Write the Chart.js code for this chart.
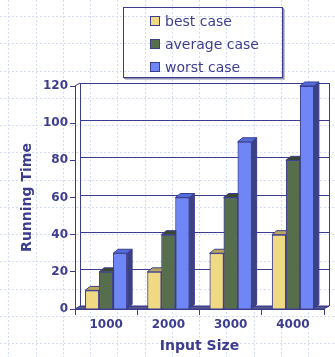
<!DOCTYPE html>
<html>
<head>
<meta charset="utf-8">
<script src="https://cdn.jsdelivr.net/npm/chart.js@4.4.0/dist/chart.umd.min.js"></script>
<style>
  html, body { margin: 0; padding: 0; background: #fff; }
  #wrap { position: relative; width: 335px; height: 357px; overflow: hidden; }
  #chart { position: absolute; left: 0; top: 0; }
  #legend {
    position: absolute; left: 123px; top: 7px; width: 160px; height: 71px;
    box-sizing: border-box; border: 1px solid #3d3d8f;
    box-shadow: 1px 1px 0 #8f8fb3, 2px 2px 0 #c4c4d8;
    font: 14px "DejaVu Sans", sans-serif; color: #3d3d8f;
  }
  #legend .item {
    position: absolute; left: 26px; height: 20px; line-height: 20px;
    display: flex; align-items: center; white-space: nowrap;
  }
  #legend .sw {
    width: 10px; height: 10px; box-sizing: border-box;
    border: 1px solid #3d3d8f; margin-right: 5px;
  }
</style>
</head>
<body>
<div id="wrap">
  <canvas id="chart" width="335" height="357"></canvas>
  <div id="legend"></div>
</div>
<script>
// Input sizes along the x axis
const categories = ['1000', '2000', '3000', '4000'];
// Running times per case
const bestCase    = [10, 20, 30, 40];
const averageCase = [20, 40, 60, 80];
const worstCase   = [30, 60, 90, 120];
// Value axis range
const yMin = 0;
const yMax = 120;
const yStep = 20;

const INK = '#3d3d8f';
const FONT = '"DejaVu Sans", "Verdana", sans-serif';
// depth offsets for the pseudo-3D walls and bar faces
const WALL = { dx: 5, dy: -3 };
const BAR  = { dx: 5, dy: -4 };

Chart.defaults.font.family = FONT;

// light dotted paper grid behind everything
const paper = {
  id: 'paper',
  beforeDraw(chart) {
    const { ctx, width, height } = chart;
    ctx.save();
    ctx.fillStyle = '#ffffff';
    ctx.fillRect(0, 0, width, height);
    ctx.strokeStyle = '#d4dcf6';
    ctx.lineWidth = 1;
    ctx.setLineDash([2, 2]);
    ctx.beginPath();
    for (let gx = 8.3; gx < width; gx += 27.25) {
      const px = Math.round(gx) + 0.5;
      ctx.moveTo(px, 0); ctx.lineTo(px, height);
    }
    for (let gy = 16; gy < height; gy += 27.25) {
      const py = Math.round(gy) + 0.5;
      ctx.moveTo(0, py); ctx.lineTo(width, py);
    }
    ctx.stroke();
    ctx.restore();
  }
};

// back wall, floor and side edges of the plot box
const walls = {
  id: 'walls',
  beforeDatasetsDraw(chart) {
    const { ctx, chartArea: a, scales: { y } } = chart;
    const L = a.left, R = a.right, T = a.top, B = a.bottom;
    const { dx, dy } = WALL;
    ctx.save();
    ctx.lineWidth = 1;
    ctx.strokeStyle = INK;
    // floor slab
    ctx.fillStyle = '#5b5b89';
    ctx.beginPath();
    ctx.moveTo(L, B); ctx.lineTo(L + dx, B + dy);
    ctx.lineTo(R + dx, B + dy); ctx.lineTo(R, B);
    ctx.closePath();
    ctx.fill();
    ctx.stroke();
    // back grid lines at every tick
    ctx.beginPath();
    y.ticks.forEach(t => {
      const py = Math.round(y.getPixelForValue(t.value) + dy) + 0.5;
      ctx.moveTo(L + dx, py); ctx.lineTo(R + dx, py);
    });
    // back wall edges
    const lx = Math.round(L + dx) + 0.5, rx = Math.round(R + dx) + 0.5;
    ctx.moveTo(lx, T + dy); ctx.lineTo(lx, B + dy);
    ctx.moveTo(rx, T + dy); ctx.lineTo(rx, B + dy);
    // top of the left wall
    ctx.moveTo(L, T); ctx.lineTo(L + dx, T + dy);
    ctx.stroke();
    ctx.restore();
  }
};

// top and right faces of every bar; each bar front is repainted after its
// own faces so the next bar in the group covers the hidden parts
const barFaces = {
  id: 'barFaces',
  afterDatasetsDraw(chart) {
    const { ctx } = chart;
    const { dx, dy } = BAR;
    const face = (pts, color) => {
      ctx.beginPath();
      ctx.moveTo(pts[0][0], pts[0][1]);
      for (let i = 1; i < pts.length; i++) ctx.lineTo(pts[i][0], pts[i][1]);
      ctx.closePath();
      ctx.fillStyle = color;
      ctx.fill();
      ctx.stroke();
    };
    chart.data.datasets.forEach((ds, di) => {
      const meta = chart.getDatasetMeta(di);
      meta.data.forEach(bar => {
        const { x, y, base, width } = bar.getProps(['x', 'y', 'base', 'width'], true);
        const l = x - width / 2, r = x + width / 2;
        ctx.save();
        ctx.lineWidth = 1;
        ctx.strokeStyle = INK;
        face([[r, y], [r + dx, y + dy], [r + dx, base + dy], [r, base]], ds.sideColor);
        face([[l, y], [l + dx, y + dy], [r + dx, y + dy], [r, y]], ds.topColor);
        ctx.restore();
        bar.draw(ctx, chart.chartArea);
      });
    });
  }
};

const datasets = [
  { label: 'best case', data: bestCase, backgroundColor: '#efd983',
    topColor: '#b9a65d', sideColor: '#a8964f' },
  { label: 'average case', data: averageCase, backgroundColor: '#566e4c',
    topColor: '#38472f', sideColor: '#2f3c28' },
  { label: 'worst case', data: worstCase, backgroundColor: '#6f87f6',
    topColor: '#526cdc', sideColor: '#3b4284' }
].map(d => Object.assign(d, {
  borderColor: INK, borderWidth: 1,
  categoryPercentage: 0.675, barPercentage: 1.0
}));

new Chart(document.getElementById('chart'), {
  type: 'bar',
  data: { labels: categories, datasets },
  options: {
    responsive: false,
    animation: false,
    devicePixelRatio: 1,
    layout: { padding: { top: 86, right: 11, left: 0, bottom: 0 } },
    plugins: { legend: { display: false }, tooltip: { enabled: false } },
    scales: {
      x: {
        grid: { offset: true, drawOnChartArea: false, drawTicks: true, tickLength: 6, color: INK },
        border: { display: true, color: INK },
        ticks: { color: INK, font: { size: 12, weight: 'bold' }, padding: 3 },
        title: { display: true, text: 'Input Size', color: INK,
                 font: { size: 14, weight: 'bold' }, padding: { top: 0, bottom: 2 } },
        afterFit(scale) { scale.height = 48; }
      },
      y: {
        min: yMin, max: yMax,
        grid: { drawOnChartArea: false, drawTicks: true, tickLength: 5, color: INK },
        border: { display: true, color: INK },
        ticks: { stepSize: yStep, color: INK, font: { size: 12, weight: 'bold' }, padding: 2 },
        title: { display: true, text: 'Running Time', color: INK,
                 font: { size: 14, weight: 'bold' }, padding: { top: 19, bottom: 0 } },
        afterFit(scale) { scale.width = 75; }
      }
    }
  },
  plugins: [paper, walls, barFaces]
});

// legend box built from the datasets
const legend = document.getElementById('legend');
datasets.forEach((d, i) => {
  const item = document.createElement('div');
  item.className = 'item';
  item.style.top = (3 + i * 23) + 'px';
  const sw = document.createElement('span');
  sw.className = 'sw';
  sw.style.background = d.backgroundColor;
  const txt = document.createElement('span');
  txt.textContent = d.label;
  item.appendChild(sw);
  item.appendChild(txt);
  legend.appendChild(item);
});
</script>
</body>
</html>
